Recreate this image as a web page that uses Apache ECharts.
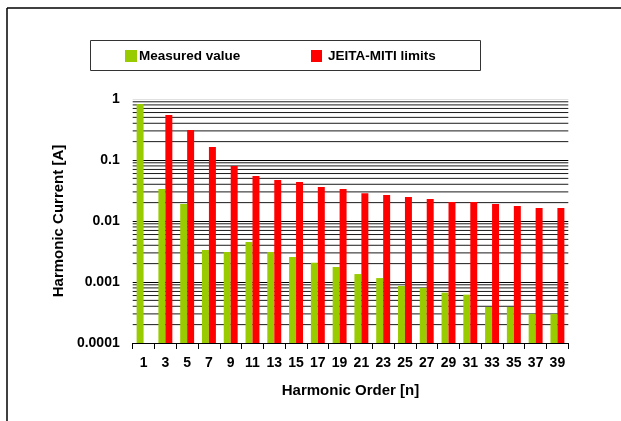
<!DOCTYPE html>
<html>
<head>
<meta charset="utf-8">
<script src="https://cdn.jsdelivr.net/npm/echarts@6/dist/echarts.min.js"></script>
<style>
  html, body { margin: 0; padding: 0; background: #fff; }
  #chart { width: 621px; height: 421px; }
</style>
</head>
<body>
<div id="chart"></div>
<script>
// Harmonic orders (odd harmonics 1..39)
const orders = ['1','3','5','7','9','11','13','15','17','19','21','23','25','27','29','31','33','35','37','39'];

// Measured harmonic current [A]
const measured = [0.83, 0.0335, 0.019, 0.00335, 0.0031, 0.00453, 0.0031, 0.00257, 0.00207, 0.00176,
                  0.00135, 0.00116, 0.00086, 0.0008, 0.00067, 0.00062, 0.00039, 0.00039, 0.0003, 0.0003];

// JEITA-MITI limit per harmonic order [A] (no limit for the fundamental)
const limits = [null, 0.547, 0.31, 0.163, 0.0797, 0.0547, 0.047, 0.0436, 0.0361, 0.0335,
                0.0285, 0.0267, 0.0247, 0.023, 0.0205, 0.0205, 0.019, 0.0176, 0.0163, 0.0163];

// Y axis tick values (log scale, decades)
const yTicks = [0.0001, 0.001, 0.01, 0.1, 1];
const yMin = yTicks[0];
const yMax = yTicks[yTicks.length - 1];

// Minor grid values: 2..9 within each decade
const minorGrid = [];
for (let d = 0; d < yTicks.length - 1; d++) {
  for (let k = 2; k <= 9; k++) minorGrid.push(+(yTicks[d] * k).toPrecision(3));
}

const font = 'Liberation Sans, Arial, sans-serif';
const BAR_FRACTION = 0.32; // each bar's share of the category band

// Bars rise from the axis minimum; side -1 = left of the category centre, +1 = right
function barRenderer(side) {
  return function (params, api) {
    const idx = api.value(0);
    const v = api.value(1);
    if (v == null || isNaN(v)) return null;
    const top = api.coord([idx, v]);
    const base = api.coord([idx, yMin]);
    const bw = api.size([1, 0])[0] * BAR_FRACTION;
    const x = side < 0 ? top[0] - bw : top[0];
    return {
      type: 'rect',
      shape: { x: x, y: top[1], width: bw, height: base[1] - top[1] },
      style: { fill: api.visual('color'), opacity: 1 }
    };
  };
}

// Horizontal grid line across the plot at a given y value
function gridLineRenderer(params, api) {
  const cs = params.coordSys;
  const y = api.coord([0, api.value(1)])[1];
  return {
    type: 'line',
    shape: { x1: cs.x, y1: y, x2: cs.x + cs.width, y2: y },
    style: { stroke: '#1a1a1a', lineWidth: 1 }
  };
}

const toPairs = arr => arr.map((v, i) => (v == null ? null : [i, v])).filter(Boolean);

const chart = echarts.init(document.getElementById('chart'), null, { renderer: 'canvas' });

chart.setOption({
  animation: false,
  backgroundColor: '#fff',
  textStyle: { fontFamily: font, color: '#000' },
  graphic: [
    // outer frame (top and left edges)
    { type: 'line', shape: { x1: 7, y1: 8, x2: 621, y2: 8 }, style: { stroke: '#000', lineWidth: 1.5 } },
    { type: 'line', shape: { x1: 7, y1: 8, x2: 7, y2: 421 }, style: { stroke: '#000', lineWidth: 1.5 } },
    // legend box
    { type: 'rect', shape: { x: 90.5, y: 40.5, width: 390, height: 30 },
      style: { fill: '#fff', stroke: '#333', lineWidth: 1 }, z: 0 }
  ],
  legend: [
    { data: ['Measured value'], left: 125, top: 49, padding: 0, itemWidth: 12, itemHeight: 12, itemGap: 0,
      icon: 'rect', textStyle: { fontFamily: font, fontSize: 13.5, fontWeight: 'bold', color: '#000', padding: [0, 0, 0, -3] } },
    { data: ['JEITA-MITI limits'], left: 311, top: 49, padding: 0, itemWidth: 11, itemHeight: 12, itemGap: 0,
      icon: 'rect', textStyle: { fontFamily: font, fontSize: 13.5, fontWeight: 'bold', color: '#000', padding: [0, 0, 0, 1] } }
  ],
  grid: { left: 132.7, right: 52.7, top: 99, bottom: 78, containLabel: false },
  xAxis: {
    type: 'category',
    data: orders,
    boundaryGap: true,
    name: 'Harmonic Order [n]',
    nameLocation: 'middle',
    nameGap: 40,
    nameTextStyle: { fontFamily: font, fontSize: 15, fontWeight: 'bold', color: '#000' },
    axisLine: { show: true, lineStyle: { color: '#000', width: 1 } },
    axisTick: { show: true, interval: 0, alignWithLabel: false, length: 6, lineStyle: { color: '#000' } },
    axisLabel: { interval: 0, margin: 13, fontFamily: font, fontSize: 14, fontWeight: 'bold', color: '#000' },
    splitLine: { show: false }
  },
  yAxis: {
    type: 'log',
    logBase: 10,
    min: yMin,
    max: yMax,
    name: 'Harmonic Current [A]',
    nameLocation: 'middle',
    nameGap: 61,
    nameTextStyle: { fontFamily: font, fontSize: 15, fontWeight: 'bold', color: '#000' },
    axisLine: { show: false },
    axisTick: { show: false },
    axisLabel: {
      margin: 13, fontFamily: font, fontSize: 14, fontWeight: 'bold', color: '#000',
      formatter: v => String(Number(v.toPrecision(6)))
    },
    splitLine: { show: true, lineStyle: { color: ['#000', '#000', '#000', '#000', '#e0e0e0'], width: 1 } }
  },
  series: [
    {
      // minor grid lines drawn beneath the bars
      name: 'grid-minor',
      type: 'custom',
      renderItem: gridLineRenderer,
      data: minorGrid.map(v => [0, v]),
      encode: { x: 0, y: 1 },
      silent: true,
      z: 1
    },
    {
      name: 'Measured value',
      type: 'custom',
      renderItem: barRenderer(-1),
      data: toPairs(measured),
      encode: { x: 0, y: 1 },
      zlevel: 1,
      z: 3,
      itemStyle: { color: '#99CC00' }
    },
    {
      name: 'JEITA-MITI limits',
      type: 'custom',
      renderItem: barRenderer(1),
      data: toPairs(limits),
      encode: { x: 0, y: 1 },
      zlevel: 1,
      z: 3,
      itemStyle: { color: '#FF0000' }
    }
  ]
});
</script>
</body>
</html>
